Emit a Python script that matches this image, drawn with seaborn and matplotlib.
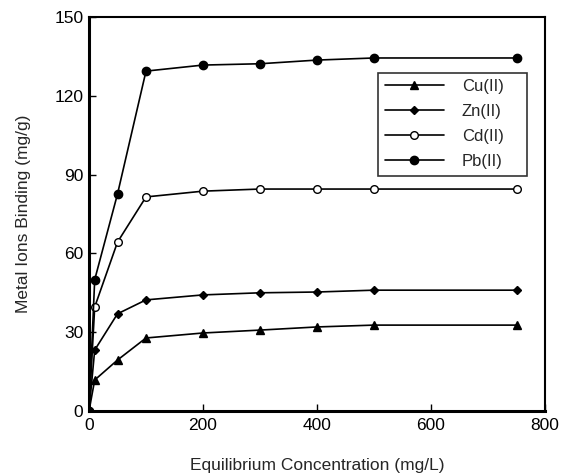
import pandas as pd
import matplotlib.pyplot as plt
import seaborn as sns

conc = [0, 10, 50, 100, 200, 300, 400, 500, 750]
cu = [0, 11.8, 19.4, 27.8, 29.7, 30.8, 32.0, 32.7, 32.7]
zn = [0, 23.2, 37.0, 42.3, 44.2, 45.0, 45.3, 46.0, 46.0]
cd = [0, 39.6, 64.3, 81.5, 83.7, 84.5, 84.5, 84.5, 84.5]
pb = [0, 50.0, 82.6, 129.4, 131.7, 132.2, 133.6, 134.4, 134.4]
ions = ['Cu(II)', 'Zn(II)', 'Cd(II)', 'Pb(II)']

df = pd.DataFrame({'conc': conc * 4,
                   'value': cu + zn + cd + pb,
                   'ion': [i for i in ions for _ in conc]})

sns.set_style('ticks')
plt.rcParams['font.family'] = ['Liberation Sans', 'DejaVu Sans']

fig = plt.figure(figsize=(5.63, 4.73), dpi=100)
ax = fig.add_axes([89 / 563, 1 - 411 / 473, 456 / 563, 394 / 473])

markers = {'Cu(II)': '^', 'Zn(II)': 'D', 'Cd(II)': 'o', 'Pb(II)': 'o'}
sizes = {'Cu(II)': 5.5, 'Zn(II)': 4, 'Cd(II)': 5.5, 'Pb(II)': 6}
faces = {'Cu(II)': 'black', 'Zn(II)': 'black', 'Cd(II)': 'white', 'Pb(II)': 'black'}

for ion in ions:
    sub = df[df['ion'] == ion]
    sns.lineplot(data=sub, x='conc', y='value', ax=ax, color='black', lw=1.2,
                 marker=markers[ion], markersize=sizes[ion],
                 markerfacecolor=faces[ion], markeredgecolor='black',
                 markeredgewidth=1, label=ion)

ax.set_xlim(0, 800)
ax.set_ylim(0, 150)
ax.set_xticks([0, 200, 400, 600, 800])
ax.set_yticks([0, 30, 60, 90, 120, 150])
ax.tick_params(direction='in', length=5, width=1, labelsize=12.5, colors='black')
ax.tick_params(axis='x', pad=5)
ax.tick_params(axis='y', pad=4)
for s in ['left', 'bottom']:
    ax.spines[s].set_linewidth(2.2)
for s in ['top', 'right']:
    ax.spines[s].set_linewidth(1.5)
for s in ax.spines.values():
    s.set_color('black')
ax.set_xlabel('Equilibrium Concentration (mg/L)', fontsize=12.5, labelpad=18)
ax.set_ylabel('Metal Ions Binding (mg/g)', fontsize=12.5, labelpad=17)

leg = ax.legend(loc='upper left', bbox_to_anchor=(0.634, 0.597, 0.327, 0.262),
                mode='expand', frameon=True,
                fancybox=False, edgecolor='black', fontsize=12,
                handlelength=3.55, handletextpad=1.08, labelspacing=0.6,
                borderpad=0.4, borderaxespad=0)
leg.get_frame().set_linewidth(1.2)

fig.savefig('out.png', dpi=100)
